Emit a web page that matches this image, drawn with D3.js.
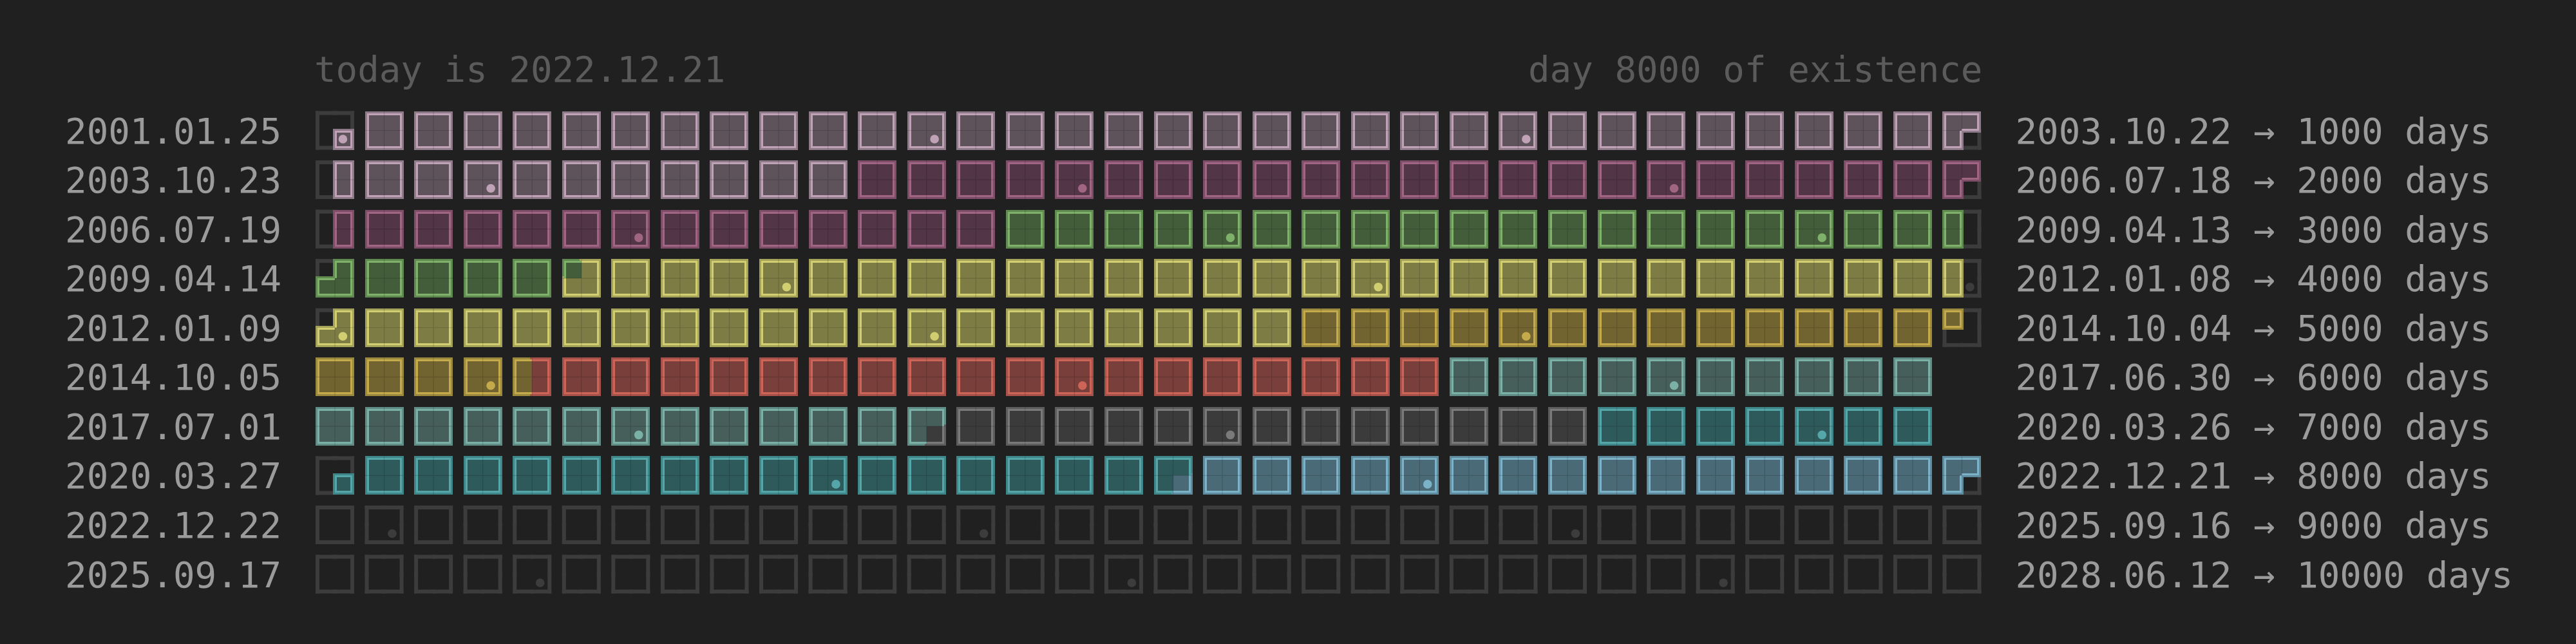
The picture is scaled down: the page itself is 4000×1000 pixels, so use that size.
<!DOCTYPE html>
<html>
<head>
<meta charset="utf-8">
<script src="https://cdn.jsdelivr.net/npm/d3@7"></script>
<style>
  html, body { margin: 0; padding: 0; background: #202020; }
  svg { display: block; }
</style>
</head>
<body>
<svg id="chart" width="4000" height="1000"></svg>
<script>
// ---------------- data ----------------
const rowStart = ["2001.01.25","2003.10.23","2006.07.19","2009.04.14","2012.01.09",
                  "2014.10.05","2017.07.01","2020.03.27","2022.12.22","2025.09.17"];
const rowEnd   = ["2003.10.22","2006.07.18","2009.04.13","2012.01.08","2014.10.04",
                  "2017.06.30","2020.03.26","2022.12.21","2025.09.16","2028.06.12"];
const rowDays  = [1000,2000,3000,4000,5000,6000,7000,8000,9000,10000];
// start date of each life phase (colour segment)
const phaseStart = ["2001.01.25","2004.09.01","2007.09.01","2009.09.08","2013.09.01",
                    "2015.02.16","2016.09.01","2018.07.24","2019.09.01","2021.08.24"];
const today = "2022.12.21";
const dayCount = 8000;
const birthday = "2001.01.25";   // dots mark this day every year

// ---------------- styles ----------------
const palette = [
  {fill:"#5e535b", band:"#8f7a89", ring:"#bfa2b6"}, // mauve
  {fill:"#523546", band:"#7e4e68", ring:"#a06583"}, // magenta
  {fill:"#435d3a", band:"#5f8a50", ring:"#80b16a"}, // green
  {fill:"#7e7c45", band:"#a5a359", ring:"#d0ce70"}, // light yellow
  {fill:"#726430", band:"#9b893d", ring:"#c4aa4a"}, // ochre
  {fill:"#793f3a", band:"#a6524a", ring:"#cc6458"}, // red
  {fill:"#465f5b", band:"#608e86", ring:"#7bb0a7"}, // teal
  {fill:"#3b3b3b", band:"#5d5d5d", ring:"#7a7a7a"}, // gray
  {fill:"#2f5a5c", band:"#3f8688", ring:"#55a6a9"}, // cyan
  {fill:"#4a6a77", band:"#5f8b9e", ring:"#7bb2c8"}  // blue
];
const emptyColor = "#3c3c3c";
const bg = "#202020";
const fontFamily = "'DejaVu Sans Mono', 'Liberation Mono', monospace";
const fontSize = 55.8;

// ---------------- helpers ----------------
const parse = d3.timeParse("%Y.%m.%d");
function monthIndex(d){ return d.getFullYear()*12 + d.getMonth(); }
function quarterOf(d){
  const n = new Date(d.getFullYear(), d.getMonth()+1, 0).getDate();
  return Math.min(3, Math.floor(d.getDate()*4/n));
}
function qKey(s){ const d = parse(s); return monthIndex(d)*4 + quarterOf(d); }

const phaseKeys = phaseStart.map(qKey);
const todayKey = qKey(today);
const todayDate = parse(today);
const birthKey = qKey(birthday);
const bMonth = parse(birthday).getMonth();
const bQuarter = quarterOf(parse(birthday));
function phaseOf(k){
  let p = -1;
  phaseKeys.forEach((pk,i)=>{ if (k >= pk) p = i; });
  return p;
}

// build cells
const cells = [];
rowStart.forEach((s,r)=>{
  const sk = qKey(s), ek = qKey(rowEnd[r]);
  const lived = parse(s) <= todayDate;
  const m0 = Math.floor(sk/4), m1 = Math.floor(ek/4);
  for (let m = m0; m <= m1; m++){
    const quads = [0,1,2,3].map(q=>{
      const k = m*4+q;
      const filled = lived && k >= sk && k <= ek && k <= todayKey && k >= birthKey;
      return {q, filled, phase: filled ? phaseOf(k) : -1};
    });
    cells.push({row:r, col:m-m0, month:m%12, quads});
  }
});

// ---------------- layout ----------------
const svg = d3.select("#chart");
svg.append("rect").attr("width",4000).attr("height",1000).attr("fill",bg);

const nCols = 34;
const x = d3.scaleBand().domain(d3.range(nCols)).range([490, 490 + 33*76.56 + 60])
  .paddingInner(16.56/76.56).paddingOuter(0);
const y = d3.scaleBand().domain(d3.range(rowStart.length)).range([172.5, 172.5 + 9*76.56 + 60])
  .paddingInner(16.56/76.56).paddingOuter(0);

const B = 3;                       // half stroke
const S = x.bandwidth() - 2*B;     // inner square
const h = S/2;

// header
svg.append("text").attr("x", x(0) - 2).attr("y", 127)
  .attr("font-family", fontFamily).attr("font-size", fontSize).attr("fill", "#5b5b5b")
  .text("today is " + today);
svg.append("text").attr("x", x(nCols-1) + x.bandwidth() + 2).attr("y", 127)
  .attr("text-anchor","end")
  .attr("font-family", fontFamily).attr("font-size", fontSize).attr("fill", "#5b5b5b")
  .text("day " + dayCount + " of existence");

// row labels
svg.append("g").selectAll("text").data(rowStart).join("text")
  .attr("x", x(0) - 53).attr("y", (d,i)=> y(i) + y.bandwidth()/2 + 20)
  .attr("text-anchor","end")
  .attr("font-family", fontFamily).attr("font-size", fontSize).attr("fill", "#9b9b9b")
  .text(d=>d);
svg.append("g").selectAll("text").data(rowEnd).join("text")
  .attr("x", x(nCols-1) + x.bandwidth() + 53).attr("y", (d,i)=> y(i) + y.bandwidth()/2 + 20)
  .attr("font-family", fontFamily).attr("font-size", fontSize).attr("fill", "#9b9b9b")
  .text((d,i)=> d + " \u2192 " + rowDays[i] + " days");

// quadrant geometry (column-major: TL, BL, TR, BR)
const qx = q => (q>>1)*h, qy = q => (q&1)*h;
function neighbour(q, dir){
  const c = q>>1, r = q&1;
  let nc = c, nr = r;
  if (dir==="top") nr = r-1; if (dir==="bottom") nr = r+1;
  if (dir==="left") nc = c-1; if (dir==="right") nc = c+1;
  if (nc<0||nc>1||nr<0||nr>1) return -1;
  return nc*2+nr;
}
function edgeRect(q, dir, kind){
  const X = qx(q), Y = qy(q);
  if (kind==="band"){
    if (dir==="top")    return [X-B, Y-B, h+2*B, B];
    if (dir==="bottom") return [X-B, Y+h, h+2*B, B];
    if (dir==="left")   return [X-B, Y-B, B, h+2*B];
    if (dir==="right")  return [X+h, Y-B, B, h+2*B];
  } else if (kind==="ring"){
    if (dir==="top")    return [X, Y, h, B];
    if (dir==="bottom") return [X, Y+h-B, h, B];
    if (dir==="left")   return [X, Y, B, h];
    if (dir==="right")  return [X+h-B, Y, B, h];
  } else {
    if (dir==="top")    return [X-B, Y-B, h+2*B, 2*B];
    if (dir==="bottom") return [X-B, Y+h-B, h+2*B, 2*B];
    if (dir==="left")   return [X-B, Y-B, 2*B, h+2*B];
    if (dir==="right")  return [X+h-B, Y-B, 2*B, h+2*B];
  }
}
const dirs = ["top","bottom","left","right"];

const gCells = svg.append("g").selectAll("g").data(cells).join("g")
  .attr("transform", d=>`translate(${x(d.col)+B},${y(d.row)+B})`);

gCells.each(function(d){
  const g = d3.select(this);
  const items = { empty:[], band:[], fill:[], ring:[] };
  d.quads.forEach(Q=>{
    dirs.forEach(dir=>{
      const n = neighbour(Q.q, dir);
      if (!Q.filled){
        if (n === -1) items.empty.push(edgeRect(Q.q, dir, "empty"));
      } else {
        if (n === -1 || !d.quads[n].filled){
          items.band.push({r:edgeRect(Q.q, dir, "band"), p:Q.phase});
          items.ring.push({r:edgeRect(Q.q, dir, "ring"), p:Q.phase});
        }
      }
    });
    if (Q.filled) items.fill.push({r:[qx(Q.q), qy(Q.q), h, h], p:Q.phase});
  });
  const rect = (sel, arr, colorFn) => sel.selectAll(null).data(arr).join("rect")
      .attr("x", a=>a.r[0]).attr("y", a=>a.r[1]).attr("width", a=>a.r[2]).attr("height", a=>a.r[3])
      .attr("fill", colorFn).attr("shape-rendering","crispEdges");
  g.selectAll(null).data(items.empty).join("rect")
    .attr("x", a=>a[0]).attr("y", a=>a[1]).attr("width", a=>a[2]).attr("height", a=>a[3])
    .attr("fill", emptyColor);
  rect(g, items.band, a=>palette[a.p].band);
  rect(g, items.fill, a=>palette[a.p].fill);
  rect(g, items.ring, a=>palette[a.p].ring);
  const F = q => d.quads[q].filled;
  let path = "";
  if (F(0)&&F(2)) path += `M${h},${-B}V${h}`;
  if (F(1)&&F(3)) path += `M${h},${h}V${2*h+B}`;
  if (F(0)&&F(1)) path += `M${-B},${h}H${h}`;
  if (F(2)&&F(3)) path += `M${h},${h}H${2*h+B}`;
  if (path) g.append("path").attr("d", path).attr("fill","none")
    .attr("stroke","rgba(0,0,0,0.16)").attr("stroke-width",1.2);
  if (d.month === bMonth){
    const Q = d.quads[bQuarter];
    g.append("circle").attr("cx", S*0.73).attr("cy", S*0.75).attr("r", 6.8)
      .attr("fill", Q.filled ? palette[Q.phase].ring : emptyColor);
  }
});
</script>
</body>
</html>
